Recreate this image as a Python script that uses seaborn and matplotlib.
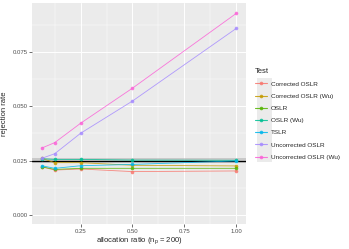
import matplotlib
matplotlib.use('Agg')
import matplotlib.pyplot as plt
import seaborn as sns
import pandas as pd
from matplotlib.patches import Rectangle
from matplotlib.lines import Line2D
from matplotlib.ticker import MultipleLocator

# Data
ratios = [0.0625, 0.125, 0.25, 0.5, 1.0]
tests = ['Corrected OSLR', 'Corrected OSLR (Wu)', 'OSLR', 'OSLR (Wu)', 'TSLR',
         'Uncorrected OSLR', 'Uncorrected OSLR (Wu)']
corrected_oslr = [0.0222, 0.0207, 0.0212, 0.0200, 0.0203]
corrected_oslr_wu = [0.0261, 0.0241, 0.0241, 0.0229, 0.0226]
oslr = [0.0222, 0.0210, 0.0215, 0.0215, 0.0215]
oslr_wu = [0.0259, 0.0256, 0.0256, 0.0253, 0.0252]
tslr = [0.0227, 0.0215, 0.0227, 0.0233, 0.0249]
uncorrected_oslr = [0.0261, 0.0282, 0.0376, 0.0524, 0.0857]
uncorrected_oslr_wu = [0.0308, 0.0333, 0.0422, 0.0583, 0.0926]
nominal = 0.025
band = (0.0238, 0.0262)

colors = ['#F8766D', '#C49A00', '#53B400', '#00C094', '#00B6EB', '#A58AFF', '#FB61D7']

series = [corrected_oslr, corrected_oslr_wu, oslr, oslr_wu, tslr,
          uncorrected_oslr, uncorrected_oslr_wu]
rows = []
for name, vals in zip(tests, series):
    for r, v in zip(ratios, vals):
        rows.append({'ratio': r, 'rate': v, 'Test': name})
df = pd.DataFrame(rows)

sns.set_theme(style='darkgrid', rc={
    'axes.facecolor': '#EBEBEB',
    'grid.color': 'white',
    'axes.edgecolor': '#EBEBEB',
})
plt.rcParams['font.family'] = ['Liberation Sans', 'DejaVu Sans']

fig = plt.figure(figsize=(3.49, 2.49), dpi=100)
ax = fig.add_axes([0.0917, 0.100, 0.613, 0.888])

ax.axhspan(band[0], band[1], color='#B3B3B3', alpha=0.6, lw=0, zorder=1)
ax.axhline(nominal, color='black', lw=0.9, zorder=2)

sns.lineplot(data=df, x='ratio', y='rate', hue='Test', hue_order=tests,
             palette=colors, marker='o', markersize=2.6, markeredgewidth=0,
             linewidth=0.6, alpha=0.85, ax=ax, zorder=3, legend=False)

ax.set_xlim(0.0156, 1.047)
ax.set_ylim(-0.0041, 0.0974)
ax.xaxis.set_minor_locator(MultipleLocator(0.125))
ax.yaxis.set_minor_locator(MultipleLocator(0.0125))
ax.set_xticks([0.25, 0.5, 0.75, 1.0])
ax.set_xticklabels(['0.25', '0.50', '0.75', '1.00'])
ax.set_yticks([0.0, 0.025, 0.05, 0.075])
ax.set_yticklabels(['0.000', '0.025', '0.050', '0.075'])
ax.grid(which='major', color='white', lw=0.7)
ax.grid(which='minor', color='white', lw=0.35)
ax.tick_params(axis='both', which='major', labelsize=4.3, labelcolor='#4D4D4D',
               length=2, width=0.5, color='#333333', pad=1.2, bottom=True, left=True)
ax.tick_params(which='minor', length=0)
for s in ax.spines.values():
    s.set_visible(False)

ax.set_xlabel(r'allocation ratio ($\mathregular{n_p}$ = 200)', fontsize=5.5)
ax.set_ylabel('rejection rate', fontsize=5.5)
ax.xaxis.set_label_coords(0.5, -0.048)
ax.yaxis.set_label_coords(-0.128, 0.5)
ax.yaxis.label.set_va('center')
ax.xaxis.label.set_va('top')

# legend with grey key boxes like ggplot
fig.patches.append(Rectangle((257 / 349, 1 - 162 / 249), 15 / 349, 84 / 249,
                             transform=fig.transFigure, facecolor='#EBEBEB',
                             edgecolor='none', zorder=0))
handles = [Line2D([], [], color=c, lw=0.8, marker='o', markersize=2.6,
                  markeredgewidth=0, alpha=0.85) for c in colors]
leg = fig.legend(handles, tests, title='Test', loc='upper left',
                 bbox_to_anchor=(252 / 349, 1 - 65 / 249),
                 fontsize=4.6, title_fontsize=5.5, frameon=False,
                 handlelength=2.0, handletextpad=0.6, labelspacing=1.05,
                 borderaxespad=0)
leg._legend_box.align = 'left'

fig.savefig('out.png', dpi=100)
